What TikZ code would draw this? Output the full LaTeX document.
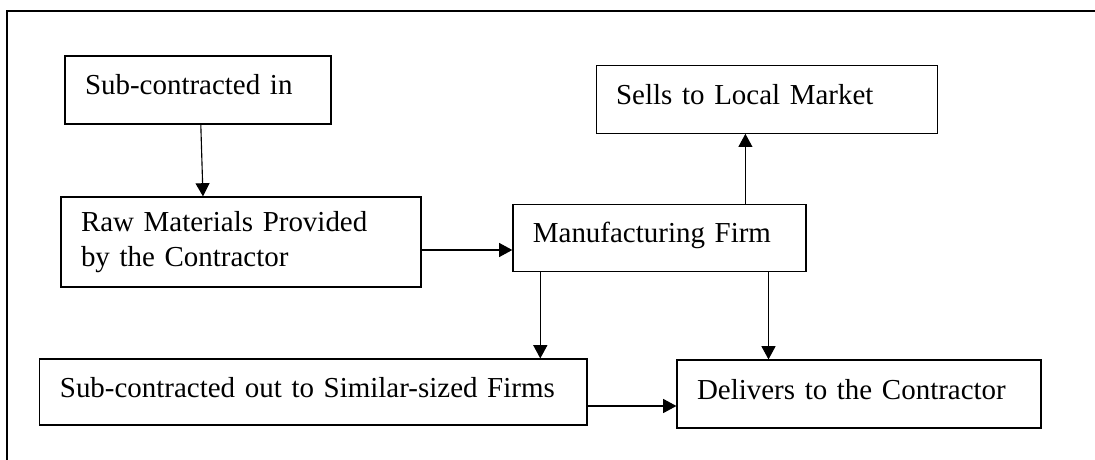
\documentclass[tikz,border=0pt]{standalone}
\usepackage{fontspec}
\setmainfont{Liberation Serif}
\usetikzlibrary{arrows.meta}
\tikzstyle{box} = [rectangle, draw=black, line width=0.85pt, inner xsep=0.5cm, align=left, font=\fontsize{20.6pt}{24.8pt}\selectfont]
\tikzstyle{onebox} = [box, text height=0.5cm, text depth=0.25cm, minimum height=1.7cm]
\tikzstyle{arrow} = [line width=0.8pt,-{Triangle[length=0.33cm,width=0.35cm]}]
\begin{document}
\begin{tikzpicture}[node distance=1.5cm]
\useasboundingbox (0,0) rectangle (27.375,-11.5);
\draw [line width=1.4pt] (0.175,-11.5) -- (0.175,-0.275) -- (27.375,-0.275);

\node (subin) [onebox, text width=5.65cm] at (4.95,-2.25) {Sub-contracted in};
\node (raw) [box, text width=8cm, minimum height=2.25cm, below of=subin, xshift=1.075cm, yshift=-2.3cm] {Raw Materials Provided\\by the Contractor};
\node (manu) [onebox, text width=6.325cm, minimum height=1.675cm, right of=raw, xshift=8.96cm, yshift=0.11cm] {Manufacturing Firm};
\node (sells) [onebox, text width=7.525cm, above of=manu, xshift=2.68cm, yshift=1.96cm] {Sells to Local Market};
\node (subout) [onebox, text width=12.675cm, minimum height=1.65cm, below of=raw, xshift=1.81cm, yshift=-2.25cm] {\mbox{Sub-contracted out to Similar-sized Firms}};
\node (deliv) [onebox, text width=8.1cm, right of=subout, xshift=12.14cm, yshift=-0.05cm] {Delivers to the Contractor};

\draw [arrow]([xshift=0.07cm]subin.south) -- ([xshift=-0.95cm]raw.north);
\draw [arrow]([yshift=-0.2cm]raw.east) -- ([yshift=-0.2cm]raw.east -| manu.west);
\draw [arrow]([xshift=2.15cm]manu.north) -- ([xshift=2.15cm]manu.north |- sells.south);
\draw [arrow]([xshift=0.7cm]manu.south west) -- ([xshift=0.7cm]manu.south west |- subout.north);
\draw [arrow]([xshift=-0.95cm]manu.south east) -- ([xshift=-0.95cm]manu.south east |- deliv.north);
\draw [arrow]([yshift=-0.35cm]subout.east) -- ([yshift=-0.35cm]subout.east -| deliv.west);
\end{tikzpicture}
\end{document}
